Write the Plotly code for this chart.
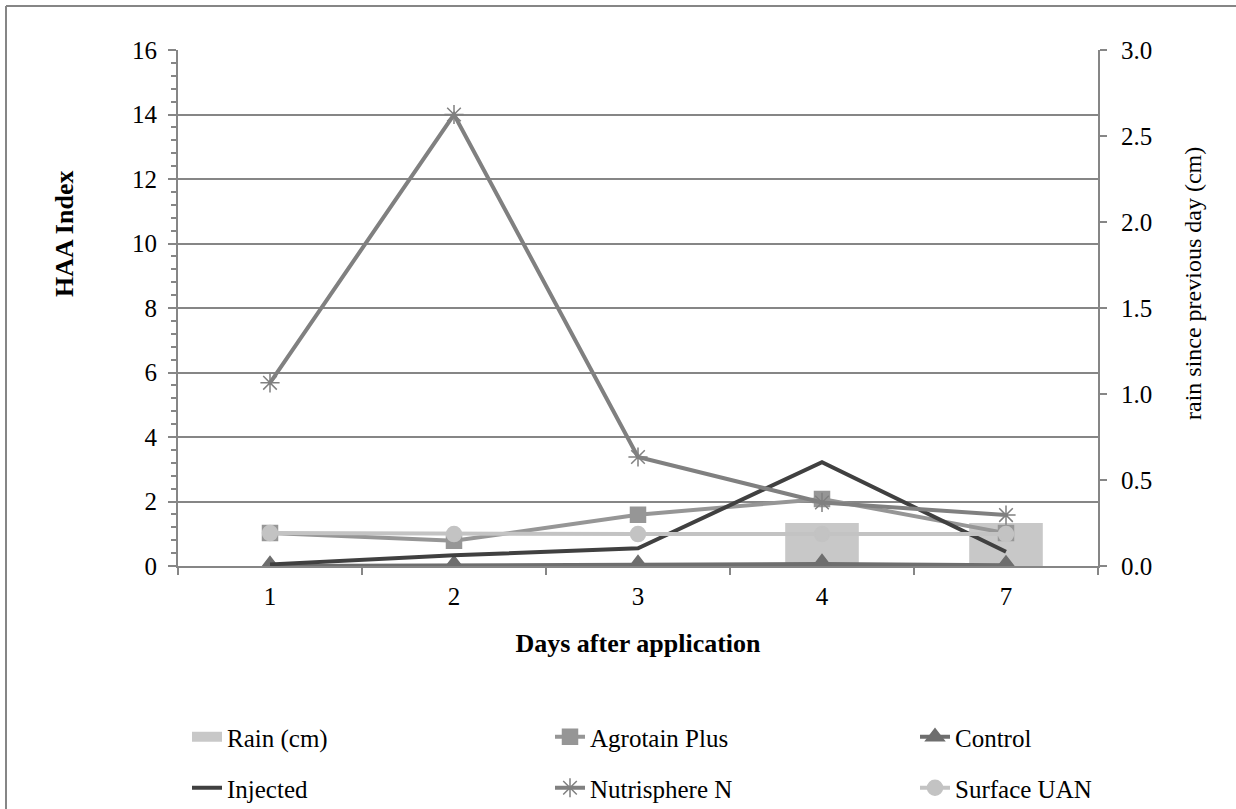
import plotly.graph_objects as go

days = ["1", "2", "3", "4", "7"]
rain_cm = [0.0, 0.0, 0.0, 0.25, 0.25]
agrotain_plus = [1.02, 0.78, 1.59, 2.08, 1.02]
control = [0.0, 0.02, 0.03, 0.06, 0.02]
injected = [0.05, 0.33, 0.55, 3.22, 0.44]
nutrisphere_n = [5.68, 14.0, 3.38, 1.97, 1.58]
surface_uan = [1.02, 0.99, 0.99, 0.99, 0.99]

FONT = "Liberation Serif"
AXIS_GRAY = "#868686"
TICK_SIZE = 25
TITLE_SIZE = 26
LEGEND_SIZE = 25

# plot-area geometry in pixels (used to place the frame, titles and legends)
W, H = 1236, 809
L, R, T, B = 178, 138, 50, 243
pw, ph = W - L - R, H - T - B


def px_x(px):
    return (px - L) / pw


def px_y(py):
    return (H - B - py) / ph


fig = go.Figure()

# rainfall bars on the right-hand axis (drawn first, beneath the lines)
fig.add_trace(go.Bar(
    x=days, y=rain_cm, name="Rain (cm)", yaxis="y", width=0.4,
    marker=dict(color="#C8C8C8", line=dict(width=0)), showlegend=False,
))
# legend entry for the rain bars, drawn as a wide swatch
fig.add_trace(go.Scatter(
    x=[None], y=[None], name="Rain (cm)", mode="lines", yaxis="y",
    line=dict(color="#C8C8C8", width=12), legend="legend",
))

series = [
    ("Agrotain Plus", agrotain_plus, "#969696", "square", 15, "legend2"),
    ("Control", control, "#6E6E6E", "triangle-up", 19, "legend3"),
    ("Injected", injected, "#404040", None, 0, "legend4"),
    ("Nutrisphere N", nutrisphere_n, "#808080", "asterisk-open", 16, "legend5"),
    ("Surface UAN", surface_uan, "#C3C3C3", "circle", 15, "legend6"),
]
for name, vals, color, sym, size, leg in series:
    fig.add_trace(go.Scatter(
        x=days, y=vals, name=name, yaxis="y2", legend=leg,
        mode="lines+markers" if sym else "lines",
        line=dict(color=color, width=4),
        marker=dict(symbol=sym or "circle", size=size, color=color,
                    line=dict(color=color, width=1.5)),
    ))


def legend_at(text_left_px, row_center_px):
    return dict(
        x=px_x(text_left_px - 40), y=px_y(row_center_px),
        xanchor="left", yanchor="middle", itemwidth=30,
        font=dict(family=FONT, size=LEGEND_SIZE, color="#000000"),
        bgcolor="rgba(0,0,0,0)", borderwidth=0,
        itemclick=False, itemdoubleclick=False,
    )


fig.update_layout(
    width=W, height=H,
    margin=dict(l=L, r=R, t=T, b=B, autoexpand=False),
    paper_bgcolor="white", plot_bgcolor="white",
    font=dict(family=FONT, size=TICK_SIZE, color="#000000"),
    xaxis=dict(
        type="category", categoryorder="array", categoryarray=days,
        tickson="boundaries", ticks="outside", ticklen=7, tickcolor=AXIS_GRAY,
        tickwidth=2, showline=True, linecolor=AXIS_GRAY, linewidth=2,
        showgrid=False, tickfont=dict(family=FONT, size=TICK_SIZE),
        ticklabelstandoff=7,
        title=dict(text="<b>Days after application</b>",
                   font=dict(family=FONT, size=TITLE_SIZE), standoff=25),
    ),
    yaxis=dict(
        side="right", range=[0, 3], dtick=0.5, tickformat=".1f",
        ticks="outside", ticklen=7, tickcolor=AXIS_GRAY, tickwidth=2,
        showline=True, linecolor=AXIS_GRAY, linewidth=2, showgrid=False,
        zeroline=False, tickfont=dict(family=FONT, size=TICK_SIZE),
        ticklabelstandoff=9,
    ),
    yaxis2=dict(
        overlaying="y", side="left", anchor="x", range=[0, 16], dtick=2,
        ticks="outside", ticklen=8, tickcolor=AXIS_GRAY, tickwidth=2,
        minor=dict(dtick=0.4, ticks="outside", ticklen=5,
                   tickcolor=AXIS_GRAY, tickwidth=1.5, showgrid=False),
        showline=True, linecolor=AXIS_GRAY, linewidth=2,
        showgrid=True, gridcolor=AXIS_GRAY, gridwidth=2, zeroline=False,
        tickfont=dict(family=FONT, size=TICK_SIZE), ticklabelstandoff=6,
    ),
    legend=legend_at(227, 737),
    legend2=legend_at(590, 737),
    legend3=legend_at(955, 737),
    legend4=legend_at(227, 788),
    legend5=legend_at(590, 788),
    legend6=legend_at(955, 788),
    annotations=[
        dict(text="<b>HAA Index</b>", textangle=-90, showarrow=False,
             xref="paper", yref="paper", x=px_x(65), y=px_y(234),
             xanchor="center", yanchor="middle",
             font=dict(family=FONT, size=TITLE_SIZE, color="#000000")),
        dict(text="rain since previous day (cm)", textangle=-90,
             showarrow=False, xref="paper", yref="paper",
             x=px_x(1193), y=px_y(284), xanchor="center", yanchor="middle",
             font=dict(family=FONT, size=TICK_SIZE - 1, color="#000000")),
    ],
    shapes=[
        dict(type="line", xref="paper", yref="paper",
             x0=px_x(6), x1=px_x(W + 10), y0=px_y(6), y1=px_y(6),
             line=dict(color=AXIS_GRAY, width=2)),
        dict(type="line", xref="paper", yref="paper",
             x0=px_x(6), x1=px_x(6), y0=px_y(6), y1=px_y(H + 10),
             line=dict(color=AXIS_GRAY, width=2)),
    ],
)

fig.write_html("out.html")
